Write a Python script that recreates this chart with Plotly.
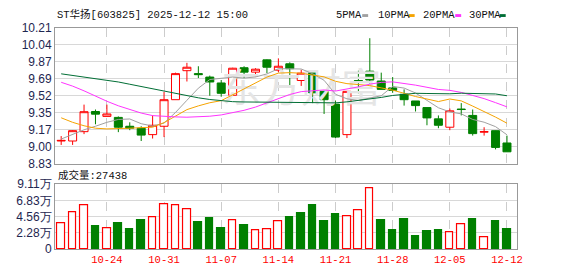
import plotly.graph_objects as go

# ---------------- data ----------------
dates = ["10-20", "10-21", "10-22", "10-23", "10-24", "10-27", "10-28", "10-29", "10-30", "10-31",
         "11-03", "11-04", "11-05", "11-06", "11-07", "11-10", "11-11", "11-12", "11-13", "11-14",
         "11-17", "11-18", "11-19", "11-20", "11-21", "11-24", "11-25", "11-26", "11-27", "11-28",
         "12-01", "12-02", "12-03", "12-04", "12-05", "12-08", "12-09", "12-10", "12-11", "12-12"]
opens = [9.06, 9.06, 9.155, 9.36, 9.31, 9.30, 9.21, 9.19, 9.125, 9.21,
         9.48, 9.775, 9.745, 9.71, 9.65, 9.525, 9.805, 9.76, 9.885, 9.78,
         9.845, 9.675, 9.76, 9.565, 9.435, 9.125, 9.675, 9.77, 9.67, 9.60,
         9.535, 9.467, 9.40, 9.285, 9.20, 9.385, 9.32, 9.15, 9.165, 9.04]
highs = [9.11, 9.17, 9.43, 9.38, 9.43, 9.31, 9.25, 9.21, 9.32, 9.56,
         9.755, 9.855, 9.82, 9.725, 9.68, 9.805, 9.82, 9.80, 9.89, 9.90,
         9.86, 9.785, 9.765, 9.57, 9.47, 9.565, 9.775, 10.105, 9.755, 9.71,
         9.585, 9.467, 9.40, 9.32, 9.39, 9.445, 9.38, 9.20, 9.167, 9.115]
lows = [9.02, 9.02, 9.13, 9.23, 9.31, 9.15, 9.17, 9.06, 9.085, 9.10,
        9.48, 9.665, 9.70, 9.52, 9.51, 9.52, 9.70, 9.71, 9.75, 9.76,
        9.62, 9.62, 9.445, 9.335, 9.09, 9.09, 9.545, 9.64, 9.585, 9.55,
        9.42, 9.36, 9.22, 9.19, 9.17, 9.32, 9.115, 9.115, 8.975, 8.95]
closes = [9.066, 9.165, 9.358, 9.333, 9.335, 9.20, 9.19, 9.12, 9.22, 9.48,
          9.745, 9.81, 9.735, 9.66, 9.545, 9.80, 9.76, 9.79, 9.81, 9.82,
          9.795, 9.75, 9.55, 9.48, 9.10, 9.565, 9.67, 9.68, 9.585, 9.575,
          9.48, 9.42, 9.295, 9.22, 9.367, 9.38, 9.135, 9.155, 8.995, 8.95]
ma5 = [9.08, 9.126, 9.174, 9.21, 9.25, 9.279, 9.284, 9.236, 9.212, 9.242,
       9.35, 9.474, 9.597, 9.685, 9.698, 9.71, 9.70, 9.711, 9.742, 9.795,
       9.794, 9.792, 9.744, 9.677, 9.535, 9.489, 9.473, 9.499, 9.52, 9.615,
       9.598, 9.548, 9.471, 9.398, 9.356, 9.336, 9.279, 9.251, 9.206, 9.123]
ma10 = [9.296, 9.25, 9.215, 9.19, 9.183, 9.183, 9.19, 9.196, 9.20, 9.247,
        9.314, 9.379, 9.417, 9.449, 9.47, 9.53, 9.587, 9.654, 9.71, 9.75,
        9.755, 9.749, 9.73, 9.712, 9.667, 9.643, 9.634, 9.623, 9.60, 9.577,
        9.545, 9.512, 9.487, 9.461, 9.487, 9.468, 9.415, 9.362, 9.303, 9.241]
ma20 = [9.657, 9.618, 9.57, 9.515, 9.464, 9.418, 9.377, 9.344, 9.318, 9.31,
        9.305, 9.302, 9.305, 9.312, 9.325, 9.345, 9.372, 9.405, 9.447, 9.497,
        9.533, 9.562, 9.572, 9.579, 9.568, 9.586, 9.61, 9.638, 9.656, 9.661,
        9.648, 9.628, 9.606, 9.584, 9.575, 9.554, 9.523, 9.491, 9.45, 9.407]
ma30 = [9.743, 9.727, 9.711, 9.695, 9.682, 9.66, 9.637, 9.614, 9.589, 9.563,
        9.544, 9.52, 9.499, 9.482, 9.468, 9.46, 9.457, 9.456, 9.455, 9.455,
        9.455, 9.455, 9.453, 9.45, 9.448, 9.458, 9.472, 9.487, 9.503, 9.523,
        9.537, 9.545, 9.543, 9.539, 9.54, 9.546, 9.544, 9.546, 9.538, 9.52]
volumes = [3.69, 5.16, 6.22, 3.20, 2.89, 3.60, 2.80, 4.00, 4.49, 6.36,
           6.22, 5.60, 3.73, 4.27, 2.93, 4.09, 3.33, 2.62, 2.76, 3.96,
           4.53, 5.07, 6.14, 3.87, 4.94, 4.62, 5.47, 8.49, 4.00, 2.67,
           4.13, 1.87, 2.53, 2.67, 2.36, 3.56, 4.13, 1.73, 3.87, 2.7438]  # 万
tick_dates = ["10-24", "10-31", "11-07", "11-14", "11-21", "11-28", "12-05", "12-12"]
price_ticks = [8.83, 9.0025, 9.175, 9.3475, 9.52, 9.6925, 9.865, 10.0375, 10.21]
price_labels = ["8.83", "9.00", "9.17", "9.35", "9.52", "9.69", "9.87", "10.04", "10.21"]
vol_ticks = [0, 2.2775, 4.555, 6.8325, 9.11]
vol_labels = ["0", "2.28万", "4.56万", "6.83万", "9.11万"]
title = "ST华扬[603825] 2025-12-12 15:00"
watermark = "东方财富"

# ---------------- styling ----------------
W, H = 578, 276
RED, GREEN = "#ff0000", "#008000"
MA_COLORS = {"5PMA": "#a0a0a0", "10PMA": "#f5a300", "20PMA": "#ff33ff", "30PMA": "#006e35"}
MONO = "Liberation Mono, Noto Sans CJK SC, monospace"
SANS = "Liberation Sans, Arial, sans-serif"


def px_x(p):
    return p / W


def px_y(p):
    return 1 - p / H


X_DOM = [px_x(55.7), px_x(522)]
P_DOM = [px_y(165), px_y(22)]
V_DOM = [px_y(255), px_y(186.7)]
X_RANGE = [-0.53, 39.84]

fig = go.Figure()

# watermark (faint, behind everything)
fig.add_trace(go.Scatter(x=[dates[21]], y=[9.56], mode="text", text=[watermark],
                         textfont=dict(family="Noto Sans CJK SC", size=40, color="#e5e5e5"),
                         hoverinfo="skip", showlegend=False, xaxis="x", yaxis="y"))

fig.add_trace(go.Candlestick(
    x=dates, open=opens, high=highs, low=lows, close=closes,
    increasing=dict(line=dict(color=RED, width=1), fillcolor="white"),
    decreasing=dict(line=dict(color=GREEN, width=1), fillcolor=GREEN),
    whiskerwidth=0, showlegend=False, xaxis="x", yaxis="y"))

for name, vals in [("5PMA", ma5), ("10PMA", ma10), ("20PMA", ma20), ("30PMA", ma30)]:
    fig.add_trace(go.Scatter(x=dates, y=vals, mode="lines", name=name,
                             line=dict(color=MA_COLORS[name], width=1),
                             showlegend=False, xaxis="x", yaxis="y"))

# volume colours: compared with previous close
up = [True] + [closes[i] >= closes[i - 1] for i in range(1, len(closes))]
fig.add_trace(go.Bar(
    x=dates, y=volumes, width=0.66,
    marker=dict(color=["white" if u else GREEN for u in up],
                line=dict(color=[RED if u else GREEN for u in up], width=1.2)),
    showlegend=False, xaxis="x2", yaxis="y2"))

axis_common = dict(showline=True, mirror=True, linecolor="#999999", linewidth=1, zeroline=False, ticks="")
cat = dict(type="category", categoryorder="array", categoryarray=dates, range=X_RANGE)
fig.update_layout(
    width=W, height=H, margin=dict(l=0, r=0, t=0, b=0),
    paper_bgcolor="white", plot_bgcolor="white",
    boxgap=0.3, boxgroupgap=0, bargap=0,
    xaxis=dict(domain=X_DOM, tickvals=tick_dates, showticklabels=False,
               showgrid=True, gridcolor="#cccccc", griddash="dash", gridwidth=1,
               rangeslider=dict(visible=False), anchor="y", **cat, **axis_common),
    yaxis=dict(domain=P_DOM, range=[8.83, 10.21], tickvals=price_ticks, ticktext=price_labels,
               showgrid=True, gridcolor="#d8d8d8", gridwidth=1, anchor="x",
               tickfont=dict(family=SANS, size=12, color="#1e2650"), **axis_common),
    xaxis2=dict(domain=X_DOM, tickvals=tick_dates, ticktext=tick_dates,
                showgrid=True, gridcolor="#cccccc", griddash="dash", gridwidth=1, anchor="y2",
                tickfont=dict(family=MONO, size=10.5, color=RED), **cat, **axis_common),
    yaxis2=dict(domain=V_DOM, range=[0, 9.11], tickvals=vol_ticks, ticktext=vol_labels,
                showgrid=True, gridcolor="#d8d8d8", gridwidth=1, anchor="x2",
                tickfont=dict(family=SANS, size=12, color="#1e2650"), **axis_common),
    hovermode=False,
)

annotations = [
    dict(text=title, x=px_x(56), y=px_y(8), xanchor="left", yanchor="middle",
         font=dict(family=MONO, size=10.5, color="#111111")),
    dict(text="成交量:%d" % round(volumes[-1] * 10000), x=px_x(57), y=px_y(177),
         xanchor="left", yanchor="middle", font=dict(family=MONO, size=10.5, color="#111111")),
]
shapes = []
legend_pos = [("5PMA", 338, 366), ("10PMA", 380, 413), ("20PMA", 425, 460), ("30PMA", 472, 505)]
for name, tx, sx in legend_pos:
    annotations.append(dict(text=name, x=px_x(tx), y=px_y(8.5), xanchor="left", yanchor="middle",
                            font=dict(family=MONO, size=10.5, color="#111111")))
    shapes.append(dict(type="rect", xref="paper", yref="paper", x0=px_x(sx), x1=px_x(sx + 6),
                       y0=px_y(10.5), y1=px_y(7.5), fillcolor=MA_COLORS[name], line=dict(width=0)))
for a in annotations:
    a.update(xref="paper", yref="paper", showarrow=False)
fig.update_layout(annotations=annotations, shapes=shapes)

fig.write_html("out.html")
